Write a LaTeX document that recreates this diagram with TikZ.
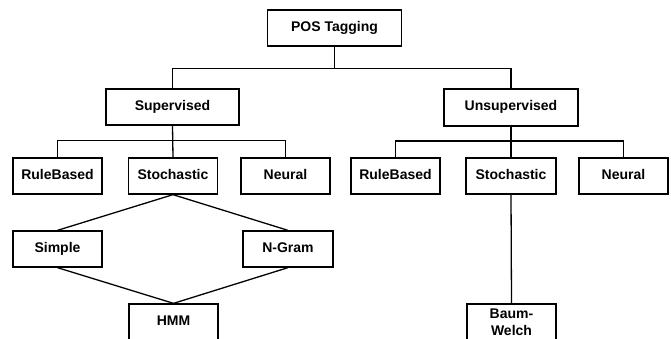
\documentclass[tikz,border=0pt]{standalone}
\usepackage{fontspec}
\setmainfont{Liberation Sans}
\begin{document}
\begin{tikzpicture}[x=1pt,y=-1pt,
  box/.style={draw=black,line width=1.3pt,fill=white,inner sep=0pt,align=center,
    font=\fontsize{14}{16}\selectfont\bfseries,text height=10pt,text depth=3pt},
  wire/.style={draw=black,line width=1.3pt}]
\clip (0,0) rectangle (671,339);
\fill[white] (0,0) rectangle (671,339);
\node[box,minimum width=134pt,minimum height=36pt] (pos) at (334.5,28) {POS Tagging};
\node[box,minimum width=133pt,minimum height=36pt] (sup) at (172.5,107) {Supervised};
\node[box,minimum width=134pt,minimum height=37pt] (uns) at (511,107.5) {Unsupervised};
\node[box,minimum width=89pt,minimum height=36pt] (sRule) at (57.5,176) {RuleBased};
\node[box,minimum width=89pt,minimum height=36pt] (sSto) at (173,176) {Stochastic};
\node[box,minimum width=89pt,minimum height=36pt] (sNeu) at (285.5,176) {Neural};
\node[box,minimum width=89pt,minimum height=36pt] (uRule) at (395.5,176) {RuleBased};
\node[box,minimum width=90pt,minimum height=36pt] (uSto) at (511,176) {Stochastic};
\node[box,minimum width=89pt,minimum height=36pt] (uNeu) at (623.5,176) {Neural};
\node[box,minimum width=89pt,minimum height=36pt] (simple) at (57.5,249) {Simple};
\node[box,minimum width=90pt,minimum height=36pt] (ngram) at (288,249) {N-Gram};
\node[box,minimum width=89pt,minimum height=36pt] (hmm) at (173.5,322) {HMM};
\node[box,minimum width=89pt,minimum height=36pt,text height=,text depth=,font=\fontsize{14}{17}\selectfont\bfseries] (bw) at (511.5,322) {Baum-\\Welch};
% tree connectors
\draw[wire] (pos.south) -- ++(0,22) -| (sup.north);
\draw[wire] (pos.south) -- ++(0,22) -| (uns.north);
\draw[wire] (sup.south) -- ++(0,15) -| (sRule.north);
\draw[wire] (sup.south) -- (sSto.north);
\draw[wire] (sup.south) -- ++(0,15) -| (sNeu.north);
\draw[wire] (uns.south) -- ++(0,14.5) -| (uRule.north);
\draw[wire] (uns.south) -- (uSto.north);
\draw[wire] (uns.south) -- ++(0,14.5) -| (uNeu.north);
\draw[wire] (sSto.south) -- (simple.north);
\draw[wire] (sSto.south) -- (ngram.north);
\draw[wire] (simple.south) -- (hmm.north);
\draw[wire] (ngram.south) -- (hmm.north);
\draw[wire] (uSto.south) -- (bw.north);
\end{tikzpicture}
\end{document}
